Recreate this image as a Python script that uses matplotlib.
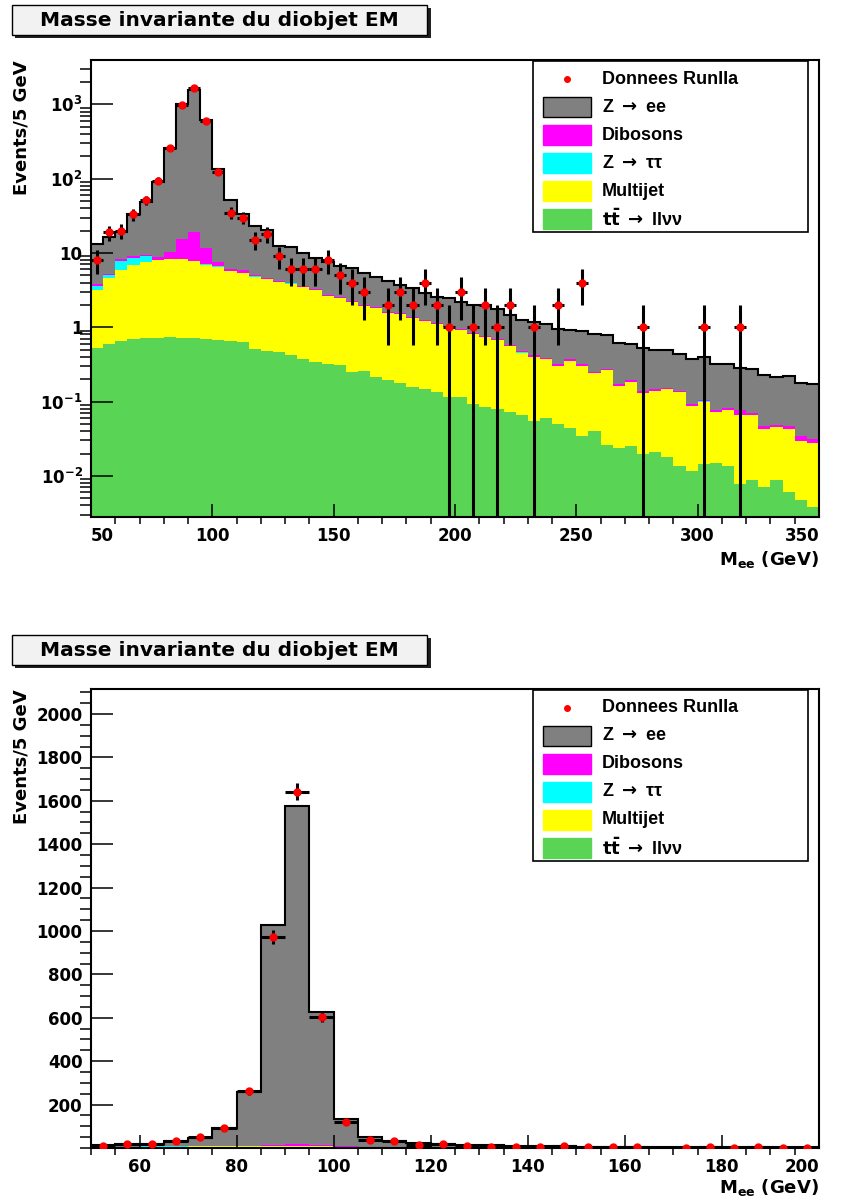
import numpy as np
import matplotlib as mpl
mpl.use('Agg')
import matplotlib.pyplot as plt
from matplotlib.patches import Rectangle
from matplotlib.lines import Line2D
from matplotlib.ticker import FixedLocator, MultipleLocator, LogLocator, NullFormatter

plt.rcParams['font.family'] = ['DejaVu Sans']
plt.rcParams['font.weight'] = 'bold'
plt.rcParams['mathtext.fontset'] = 'dejavusans'
plt.rcParams['mathtext.default'] = 'bf'

# binning : 60 bins of 5 GeV from 50 to 350
m_low = 50
bin_w = 5
nbins = 60

# data, events per bin
data = [8, 19, 20, 33, 51, 94, 262, 972, 1642, 604,
        122, 35, 30, 15, 18, 9, 6, 6, 6, 8,
        5, 4, 3, 0, 2, 3, 2, 4, 2, 1,
        3, 1, 2, 1, 2, 0, 1, 0, 2, 0,
        4, 0, 0, 0, 0, 1, 0, 0, 0, 0,
        1, 0, 0, 1, 0, 0, 0, 0, 0, 0]

# backgrounds (bottom of the stack first)
ttbar = [0.52, 0.59, 0.65, 0.69, 0.71, 0.72, 0.745, 0.71, 0.72, 0.69,
         0.67, 0.65, 0.63, 0.51, 0.48, 0.47, 0.43, 0.38, 0.34, 0.32,
         0.31, 0.25, 0.255, 0.216, 0.195, 0.18, 0.158, 0.15, 0.133, 0.116,
         0.114, 0.094, 0.085, 0.079, 0.073, 0.067, 0.055, 0.06, 0.05, 0.044,
         0.034, 0.04, 0.026, 0.024, 0.025, 0.0195, 0.021, 0.018, 0.0136, 0.0117,
         0.0145, 0.015, 0.0136, 0.0077, 0.0088, 0.0070, 0.0089, 0.0061, 0.0047, 0.0038]

multijet = [2.7, 4.0, 5.25, 6.2, 6.9, 7.2, 7.55, 7.5, 7.1, 6.3,
            5.9, 5.05, 4.8, 4.3, 4.0, 3.6, 3.45, 3.1, 2.86, 2.3,
            2.2, 1.95, 1.65, 1.58, 1.37, 1.34, 1.19, 1.07, 0.97, 0.9,
            0.81, 0.71, 0.655, 0.59, 0.48, 0.39, 0.345, 0.31, 0.25, 0.31,
            0.27, 0.2, 0.24, 0.139, 0.16, 0.11, 0.117, 0.128, 0.119, 0.076,
            0.0855, 0.057, 0.064, 0.058, 0.057, 0.036, 0.036, 0.037, 0.025, 0.024]

ztautau = [0.4, 0.45, 2.0, 1.7, 1.5, 0.1, 0.06, 0.05, 0.04, 0.03,
           0.03, 0.02, 0.02, 0.02, 0.015, 0.01, 0.01, 0.008, 0.008, 0.006,
           0.006, 0.005, 0.005, 0.004, 0.004, 0.003, 0.003, 0.003, 0.002, 0.002,
           0.002, 0.002, 0.001, 0.001, 0.001, 0.001, 0.001, 0.001, 0.001, 0.001,
           0.0008, 0.0008, 0.0007, 0.0007, 0.0006, 0.0006, 0.0005, 0.0005, 0.0005, 0.0004,
           0.0004, 0.0004, 0.0003, 0.0003, 0.0003, 0.0003, 0.0002, 0.0002, 0.0002, 0.0002]

dibosons = [0.2, 0.25, 0.4, 0.5, 0.3, 0.7, 2.0, 7.2, 11.5, 4.8,
            1.0, 0.4, 0.4, 0.3, 0.15, 0.12, 0.11, 0.1, 0.09, 0.08,
            0.07, 0.065, 0.06, 0.055, 0.05, 0.045, 0.04, 0.038, 0.035, 0.03,
            0.028, 0.026, 0.024, 0.022, 0.02, 0.019, 0.018, 0.016, 0.015, 0.014,
            0.013, 0.012, 0.011, 0.01, 0.009, 0.008, 0.008, 0.007, 0.007, 0.006,
            0.006, 0.005, 0.005, 0.011, 0.004, 0.004, 0.004, 0.004, 0.005, 0.003]

zee = [9.4, 11.0, 10.6, 24.3, 38.6, 82, 248, 1010, 1555, 613,
       127, 45.4, 27.6, 18.2, 15.9, 8.3, 8.2, 6.4, 5.2, 4.9,
       4.05, 3.95, 3.35, 2.95, 2.6, 2.15, 2.0, 1.6, 1.44, 1.45,
       1.21, 1.18, 1.21, 1.05, 0.91, 0.775, 0.75, 0.72, 0.63, 0.54,
       0.56, 0.55, 0.52, 0.44, 0.40, 0.387, 0.348, 0.34, 0.293, 0.279,
       0.286, 0.246, 0.239, 0.208, 0.206, 0.182, 0.168, 0.173, 0.141, 0.143]

stack = [(ttbar, '#59d454'), (multijet, '#ffff00'), (ztautau, '#00ffff'),
         (dibosons, '#ff00ff'), (zee, '#808080')]

leg_labels = ['Donnees RunIIa', r'Z $\rightarrow$ ee', 'Dibosons',
              r'Z $\rightarrow$ ' + '\u03c4\u03c4', 'Multijet',
              r'$t\bar{t}$ $\rightarrow$ ' + 'll\u03bd\u03bd']
leg_colors = [None, '#808080', '#ff00ff', '#00ffff', '#ffff00', '#59d454']

edges = m_low + bin_w * np.arange(nbins + 1)
centers = edges[:-1] + bin_w / 2.

fig = plt.figure(figsize=(8.42, 12.03), dpi=100)
W, H = 842., 1203.


def draw_panel(ax, nb, log):
    e = edges[:nb + 1]
    base = np.full(nb, 1e-5 if log else 0.)
    for vals, col in stack:
        top = base + np.array(vals[:nb])
        ax.stairs(top, e, baseline=base, fill=True, color=col, lw=0)
        base = top
    ax.stairs(base, e, baseline=None, color='black', lw=1.5)

    n = np.array(data[:nb], dtype=float)
    ok = n > 0
    err = np.sqrt(n[ok])
    lo = np.minimum(err, n[ok] - 1e-5) if log else err
    ax.errorbar(centers[:nb][ok], n[ok], yerr=[lo, err], xerr=bin_w / 2.,
                fmt='o', ms=5, mfc='red', mec='red', ecolor='black',
                elinewidth=2.2, capsize=0, zorder=5)

    ax.set_xlim(e[0], e[-1])
    for s in ax.spines.values():
        s.set_linewidth(1.5)
    ax.tick_params(direction='in', top=False, right=False, labelsize=12)
    ax.tick_params(axis='y', which='major', length=16, width=1.1, pad=6)
    ax.tick_params(axis='y', which='minor', length=8, width=1.1)
    ax.tick_params(axis='x', which='major', length=9.5, width=1.1, pad=7)
    ax.tick_params(axis='x', which='minor', length=5, width=1.1)


def draw_legend(top):
    # box + entries, in figure pixels measured from the top-left corner
    fig.add_artist(Rectangle((533 / W, 1 - (top + 171) / H), 275 / W, 171 / H,
                             transform=fig.transFigure, fc='white', ec='black',
                             lw=1.2, zorder=5))
    for i, (lab, col) in enumerate(zip(leg_labels, leg_colors)):
        yc = top + 18 + 28 * i
        if col is None:
            fig.add_artist(Line2D([567 / W], [1 - yc / H], transform=fig.transFigure,
                                  ls='none', marker='o', ms=4, color='red', zorder=6))
        else:
            fig.add_artist(Rectangle((543 / W, 1 - (yc + 10) / H), 48 / W, 20 / H,
                                     transform=fig.transFigure, fc=col,
                                     ec='black' if col == '#808080' else col,
                                     lw=1.0, zorder=6))
        fig.text(602 / W, 1 - yc / H, lab, ha='left', va='center', fontsize=13,
                 family=['Liberation Sans', 'DejaVu Sans'], fontweight='bold', zorder=7)


# top : log scale, 50-350
ax1 = fig.add_axes([91 / W, 1 - 517 / H, 728 / W, 457 / H])
ax1.set_yscale('log')
draw_panel(ax1, nbins, True)
ax1.set_ylim(0.0028, 3950)
ax1.yaxis.set_major_locator(FixedLocator([1e-2, 1e-1, 1, 10, 100, 1000]))
ax1.set_yticklabels([r'$10^{-2}$', r'$10^{-1}$', '1', '10', r'$10^{2}$', r'$10^{3}$'])
ax1.yaxis.set_minor_locator(LogLocator(base=10, subs=np.arange(2, 10)))
ax1.yaxis.set_minor_formatter(NullFormatter())
ax1.xaxis.set_major_locator(FixedLocator(np.arange(50, 351, 50)))
ax1.xaxis.set_minor_locator(MultipleLocator(10))
ax1.set_xticklabels([str(v) for v in range(50, 351, 50)])
xl = ax1.get_xticklabels()
xl[0].set_ha('left')
xl[-1].set_ha('right')

# bottom : linear, 50-200
ax2 = fig.add_axes([91 / W, 1 - 1148 / H, 728 / W, 459 / H])
draw_panel(ax2, 30, False)
ax2.set_ylim(0, 2115)
ax2.yaxis.set_major_locator(FixedLocator(np.arange(200, 2001, 200)))
ax2.yaxis.set_minor_locator(MultipleLocator(50))
ax2.xaxis.set_major_locator(FixedLocator(np.arange(60, 201, 20)))
ax2.xaxis.set_minor_locator(MultipleLocator(5))
ax2.set_xticklabels([str(v) for v in range(60, 201, 20)])
ax2.get_xticklabels()[-1].set_ha('right')

draw_legend(61)
draw_legend(690)

# titles, axis titles
for y0 in [4, 634]:
    fig.add_artist(Rectangle((15 / W, 1 - (y0 + 34) / H), 416 / W, 30 / H,
                             transform=fig.transFigure, fc='#202020', ec='none'))
    fig.add_artist(Rectangle((12 / W, 1 - (y0 + 31) / H), 415 / W, 30 / H,
                             transform=fig.transFigure, fc='#f2f2f2', ec='black', lw=1.0))
    fig.text(219 / W, 1 - (y0 + 16) / H, 'Masse invariante du diobjet EM',
             ha='center', va='center', fontsize=14.5, fontweight='bold')

for top, ylab in [(60, 560), (689, 1188)]:
    fig.text(22 / W, 1 - top / H, 'Events/5 GeV', rotation=90, ha='center', va='top',
             fontsize=13, fontweight='bold')
    fig.text(819 / W, 1 - ylab / H, r'M$_{ee}$ (GeV)', ha='right', va='center',
             fontsize=13, fontweight='bold')

fig.savefig('out.png', dpi=100)
